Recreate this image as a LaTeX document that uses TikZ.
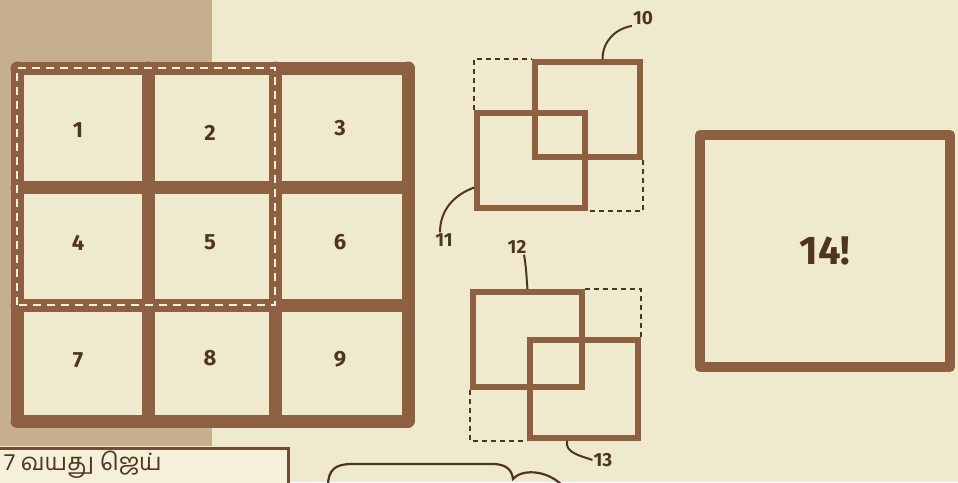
\documentclass[tikz,border=0pt]{standalone}
\usepackage{fontspec}
\setmainfont{Fira Sans}
\newfontfamily\tamilfont[Script=Tamil]{Hind Madurai}
\usepackage{xcolor}
\usetikzlibrary{positioning, calc}

\definecolor{paper}{RGB}{239,233,205}
\definecolor{tanbg}{RGB}{197,175,142}
\definecolor{marker}{RGB}{142,96,66}
\definecolor{ink}{RGB}{80,52,34}
\definecolor{chalk}{RGB}{247,240,222}
\definecolor{cardfill}{RGB}{245,240,217}
\definecolor{cardline}{RGB}{112,76,50}

\begin{document}
\begin{tikzpicture}[
  x=1pt, y=-1pt,
  gridline/.style={line width=13pt, marker, line cap=round},
  chalkdash/.style={line width=2pt, chalk, dash pattern=on 8pt off 6pt},
  num/.style={font=\fontsize{22}{22}\selectfont\bfseries, text=ink},
  sqbox/.style={rectangle, draw=marker, line width=5.5pt, minimum width=107pt,
               minimum height=96pt, inner sep=0pt},
  ghost/.style={line width=1.6pt, ink, dash pattern=on 5pt off 4pt},
  tag/.style={font=\fontsize{19}{19}\selectfont\bfseries, text=ink, inner sep=1pt},
  lead/.style={line width=2pt, ink},
  bigbox/.style={rectangle, draw=marker, line width=10pt, line join=round,
               minimum width=250pt, minimum height=232pt,
               font=\fontsize{40}{40}\selectfont\bfseries, text=ink},
  card/.style={rectangle, draw=cardline, fill=cardfill, line width=3pt,
               minimum width=299pt, minimum height=60pt, inner sep=0pt},
  cardtext/.style={font=\tamilfont\fontsize{24}{24}\selectfont, text=ink, inner sep=0pt},
  bubble/.style={line width=2.2pt, ink}
]
\useasboundingbox (0,0) rectangle (958,482);
\clip (0,0) rectangle (958,482);

%% --- paper and tan corner ---
\fill[paper] (0,0) rectangle (958,482);
\fill[tanbg] (0,0) rectangle (212,446);

%% --- 3x3 grid ---
\fill[paper] (17,68) rectangle (408,421);
\foreach \x in {17,148,275,408}
  \draw[gridline] (\x,68) -- (\x,421);
\foreach \y in {68,187,305,421}
  \draw[gridline] (17,\y) -- (408,\y);
\draw[chalkdash] (17,305) -- (17,68) -- (275,68) -- (275,305) -- cycle;

\node[num] (c1) at (78,130)  {1};
\node[num] (c2) at (210,133) {2};
\node[num] (c3) at (340,128) {3};
\node[num] (c4) at (78,243)  {4};
\node[num] (c5) at (210,242) {5};
\node[num] (c6) at (340,242) {6};
\node[num] (c7) at (78,360)  {7};
\node[num] (c8) at (210,358) {8};
\node[num] (c9) at (340,359) {9};

%% --- overlapping squares, top pair ---
\node[sqbox, minimum width=105pt, minimum height=95pt] (sqA) at (587.5,109.5) {};
\node[sqbox, minimum width=108pt, minimum height=95pt] (sqB) at (531,160.5) {};
\draw[ghost] (sqB.north west) -- (sqB.north west |- sqA.north) -- (sqA.north west);
\draw[ghost] (sqA.south east) -- (sqA.south east |- sqB.south) -- (sqB.south east);

\node[tag] (lbl10) at (643,18)  {10};
\node[tag] (lbl11) at (444,240) {11};
\draw[lead] ([xshift=15pt]sqA.north) to[out=90,in=190] (lbl10.south west);
\draw[lead] ([yshift=-27pt]sqB.west) to[out=200,in=90] ([xshift=-4pt]lbl11.north);

%% --- overlapping squares, bottom pair ---
\node[sqbox, minimum width=109pt, minimum height=95pt] (sqC) at (527.5,339.5) {};
\node[sqbox, minimum width=108pt, minimum height=98pt] (sqD) at (584,389) {};
\draw[ghost] (sqC.north east) -- (sqD.north east |- sqC.north) -- (sqD.north east);
\draw[ghost] (sqC.south west) -- (sqC.south west |- sqD.south) -- (sqD.south west);

\node[tag] (lbl12) at (517,247) {12};
\node[tag] (lbl13) at (603,460) {13};
\draw[lead] (sqC.north) to[out=95,in=-80] ([xshift=7pt]lbl12.south);
\draw[lead] ([xshift=-17pt]sqD.south) to[out=-100,in=160] (lbl13.west);

%% --- big square ---
\node[bigbox] (sq14) at (825,251) {14!};

%% --- caption card and speech bubble (cut by the edge) ---
\node[card, anchor=north west] (agecard) at (-12,447) {};
\node[cardtext, anchor=base west] (agetext) at (4,470) {7 வயது ஜெய்};
\draw[bubble] (328,486) .. controls (328,470) and (335,464) .. (352,464)
  -- (493,464) .. controls (506,464) and (512,470) .. (513,479)
  .. controls (520,470) and (545,468) .. (563,486);

\end{tikzpicture}
\end{document}
